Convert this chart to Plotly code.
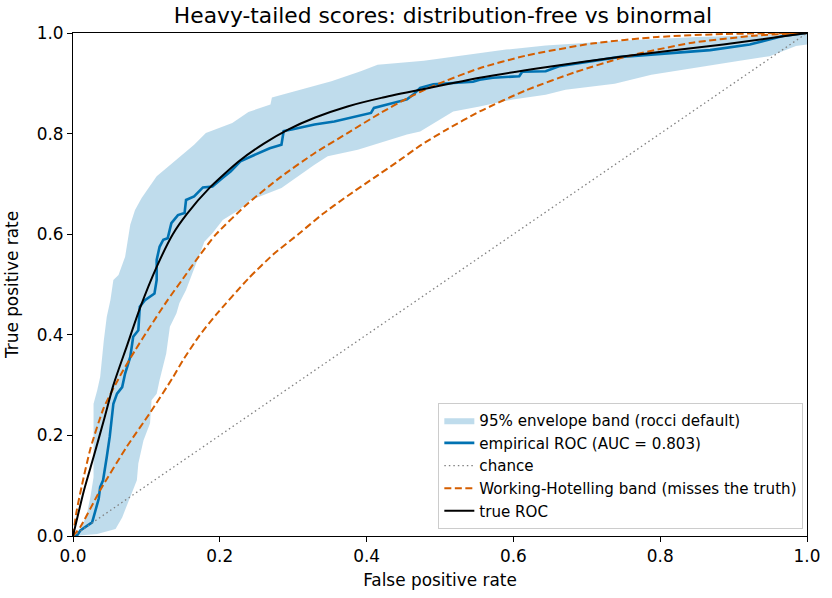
import plotly.graph_objects as go

# ---- data ----
env_upper_x = [0.0, 0.010, 0.019, 0.024, 0.028, 0.028, 0.033, 0.037, 0.042, 0.046, 0.051, 0.055, 0.062,
               0.071, 0.078, 0.0845, 0.0935, 0.114, 0.127, 0.147, 0.165, 0.181, 0.217, 0.239, 0.269,
               0.271, 0.298, 0.352, 0.392, 0.415, 0.478, 0.536, 0.590, 0.644, 0.75, 0.85, 0.967, 1.0]
env_upper_y = [0.0, 0.012, 0.044, 0.08, 0.117, 0.263, 0.290, 0.316, 0.389, 0.436, 0.469, 0.509, 0.519,
               0.555, 0.619, 0.648, 0.672, 0.715, 0.731, 0.755, 0.778, 0.801, 0.821, 0.843, 0.858,
               0.872, 0.883, 0.904, 0.924, 0.937, 0.945, 0.957, 0.967, 0.975, 0.985, 0.992, 0.997, 1.0]

env_lower_x = [0.0, 0.033, 0.058, 0.067, 0.078, 0.087, 0.089, 0.096, 0.105, 0.107, 0.114, 0.118, 0.127,
               0.132, 0.141, 0.145, 0.154, 0.163, 0.179, 0.190, 0.204, 0.226, 0.242, 0.284, 0.329,
               0.347, 0.388, 0.455, 0.473, 0.518, 0.554, 0.599, 0.644, 0.671, 0.738, 0.788, 0.850,
               0.904, 0.949, 0.985, 1.0]
env_lower_y = [0.0, 0.004, 0.014, 0.037, 0.077, 0.111, 0.144, 0.190, 0.224, 0.270, 0.283, 0.310, 0.363,
               0.416, 0.443, 0.463, 0.489, 0.522, 0.585, 0.602, 0.628, 0.648, 0.668, 0.692, 0.738,
               0.755, 0.768, 0.798, 0.804, 0.844, 0.854, 0.868, 0.877, 0.887, 0.899, 0.917, 0.931,
               0.944, 0.954, 0.974, 0.977]

emp_fpr = [0.0, 0.005, 0.010, 0.019, 0.026, 0.028, 0.031, 0.035, 0.037, 0.041, 0.046, 0.050, 0.055,
           0.060, 0.067, 0.069, 0.071, 0.078, 0.082, 0.089, 0.091, 0.098, 0.111, 0.114, 0.114, 0.118,
           0.123, 0.129, 0.134, 0.143, 0.152, 0.154, 0.165, 0.177, 0.190, 0.204, 0.215, 0.228, 0.253,
           0.268, 0.284, 0.287, 0.298, 0.316, 0.329, 0.356, 0.383, 0.406, 0.410, 0.437, 0.455, 0.464,
           0.473, 0.491, 0.545, 0.554, 0.572, 0.608, 0.612, 0.644, 0.662, 0.743, 0.806, 0.868, 0.922,
           0.967, 1.0]
emp_tpr = [0.0, 0.0, 0.011, 0.021, 0.027, 0.037, 0.051, 0.074, 0.097, 0.111, 0.157, 0.197, 0.263,
           0.283, 0.296, 0.310, 0.323, 0.356, 0.396, 0.409, 0.456, 0.469, 0.482, 0.509, 0.549, 0.575,
           0.589, 0.592, 0.622, 0.638, 0.642, 0.668, 0.675, 0.693, 0.695, 0.712, 0.725, 0.745, 0.762,
           0.771, 0.778, 0.805, 0.808, 0.814, 0.818, 0.824, 0.834, 0.841, 0.851, 0.861, 0.868, 0.878,
           0.891, 0.898, 0.903, 0.907, 0.911, 0.914, 0.923, 0.924, 0.934, 0.952, 0.959, 0.966, 0.977,
           0.994, 1.0]

true_fpr = [0.0, 0.015, 0.028, 0.042, 0.055, 0.073, 0.091, 0.114, 0.136, 0.155, 0.186, 0.226, 0.260,
            0.293, 0.330, 0.374, 0.420, 0.473, 0.554, 0.644, 0.751, 0.886, 1.0]
true_tpr = [0.0, 0.091, 0.157, 0.230, 0.300, 0.376, 0.452, 0.535, 0.600, 0.640, 0.692, 0.745, 0.780,
            0.808, 0.832, 0.854, 0.871, 0.887, 0.911, 0.932, 0.954, 0.977, 1.0]

wh_upper_fpr = [0.0, 0.005, 0.012, 0.024, 0.042, 0.064, 0.085, 0.105, 0.127, 0.150, 0.172, 0.195,
                0.239, 0.284, 0.329, 0.374, 0.419, 0.455, 0.491, 0.554, 0.617, 0.707, 0.796, 0.886, 1.0]
wh_upper_tpr = [0.0, 0.050, 0.100, 0.175, 0.255, 0.318, 0.370, 0.416, 0.465, 0.512, 0.557, 0.600,
                0.662, 0.715, 0.761, 0.801, 0.841, 0.870, 0.895, 0.930, 0.955, 0.979, 0.992, 0.998, 1.0]

wh_lower_fpr = [0.0, 0.010, 0.037, 0.073, 0.105, 0.136, 0.150, 0.172, 0.195, 0.239, 0.273, 0.307,
                0.340, 0.374, 0.410, 0.441, 0.475, 0.509, 0.554, 0.617, 0.684, 0.751, 0.841, 0.931, 1.0]
wh_lower_tpr = [0.0, 0.018, 0.091, 0.177, 0.245, 0.315, 0.350, 0.398, 0.440, 0.512, 0.560, 0.600,
                0.640, 0.676, 0.712, 0.743, 0.778, 0.808, 0.844, 0.886, 0.922, 0.952, 0.980, 0.995, 1.0]

chance = [0.0, 1.0]

tick_vals = [0.0, 0.2, 0.4, 0.6, 0.8, 1.0]
tick_text = ["0.0", "0.2", "0.4", "0.6", "0.8", "1.0"]

title_text = "Heavy-tailed scores: distribution-free vs binormal"
names = ["95% envelope band (rocci default)", "empirical ROC (AUC = 0.803)", "chance",
         "Working-Hotelling band (misses the truth)", "true ROC"]

# ---- figure ----
FONT = "DejaVu Sans"
BLUE = "#0072B2"
ORANGE = "#D55E00"

band_x = env_upper_x + env_lower_x[::-1]
band_y = env_upper_y + env_lower_y[::-1]

fig = go.Figure()
fig.add_trace(go.Scatter(x=band_x, y=band_y, mode="lines", fill="toself",
                         fillcolor="rgba(0,114,178,0.25)", line=dict(width=0),
                         name=names[0], hoverinfo="skip"))
fig.add_trace(go.Scatter(x=emp_fpr, y=emp_tpr, mode="lines",
                         line=dict(color=BLUE, width=2.6), name=names[1]))
fig.add_trace(go.Scatter(x=chance, y=chance, mode="lines",
                         line=dict(color="#808080", width=1.3, dash="1.5px,3px"), name=names[2]))
fig.add_trace(go.Scatter(x=wh_upper_fpr, y=wh_upper_tpr, mode="lines",
                         line=dict(color=ORANGE, width=2.0, dash="7px,3.5px", shape="spline",
                                   smoothing=0.6),
                         name=names[3]))
fig.add_trace(go.Scatter(x=wh_lower_fpr, y=wh_lower_tpr, mode="lines",
                         line=dict(color=ORANGE, width=2.0, dash="7px,3.5px", shape="spline",
                                   smoothing=0.6),
                         name=names[3], showlegend=False))
fig.add_trace(go.Scatter(x=true_fpr, y=true_tpr, mode="lines",
                         line=dict(color="black", width=2.0, shape="spline", smoothing=0.6),
                         name=names[4]))

axis_common = dict(range=[0, 1], tickvals=tick_vals, ticktext=tick_text, showgrid=False,
                   zeroline=False, showline=True, linecolor="black", linewidth=1.1, mirror=True,
                   ticks="outside", ticklen=5, tickwidth=1.1, tickcolor="black",
                   tickfont=dict(family=FONT, size=16.9, color="black"))

fig.update_layout(
    width=832, height=598,
    paper_bgcolor="white", plot_bgcolor="white",
    margin=dict(l=72, r=18, t=33, b=62),
    font=dict(family=FONT, color="black"),
    title=dict(text=title_text, x=(72 + 742 / 2) / 832, xanchor="center", y=1 - 15 / 598,
               yanchor="middle", yref="container",
               font=dict(family=FONT, size=21.8, color="black")),
    xaxis=dict(title=dict(text="False positive rate", font=dict(family=FONT, size=16.9), standoff=8),
               **axis_common),
    yaxis=dict(title=dict(text="True positive rate", font=dict(family=FONT, size=16.9), standoff=13),
               **axis_common),
    legend=dict(x=0.995, xanchor="right", y=0.014, yanchor="bottom",
                bgcolor="rgba(255,255,255,0.8)", bordercolor="#cccccc", borderwidth=1,
                font=dict(family=FONT, size=15.1, color="black"), tracegroupgap=0),
    showlegend=True,
)

fig.write_html("out.html")
